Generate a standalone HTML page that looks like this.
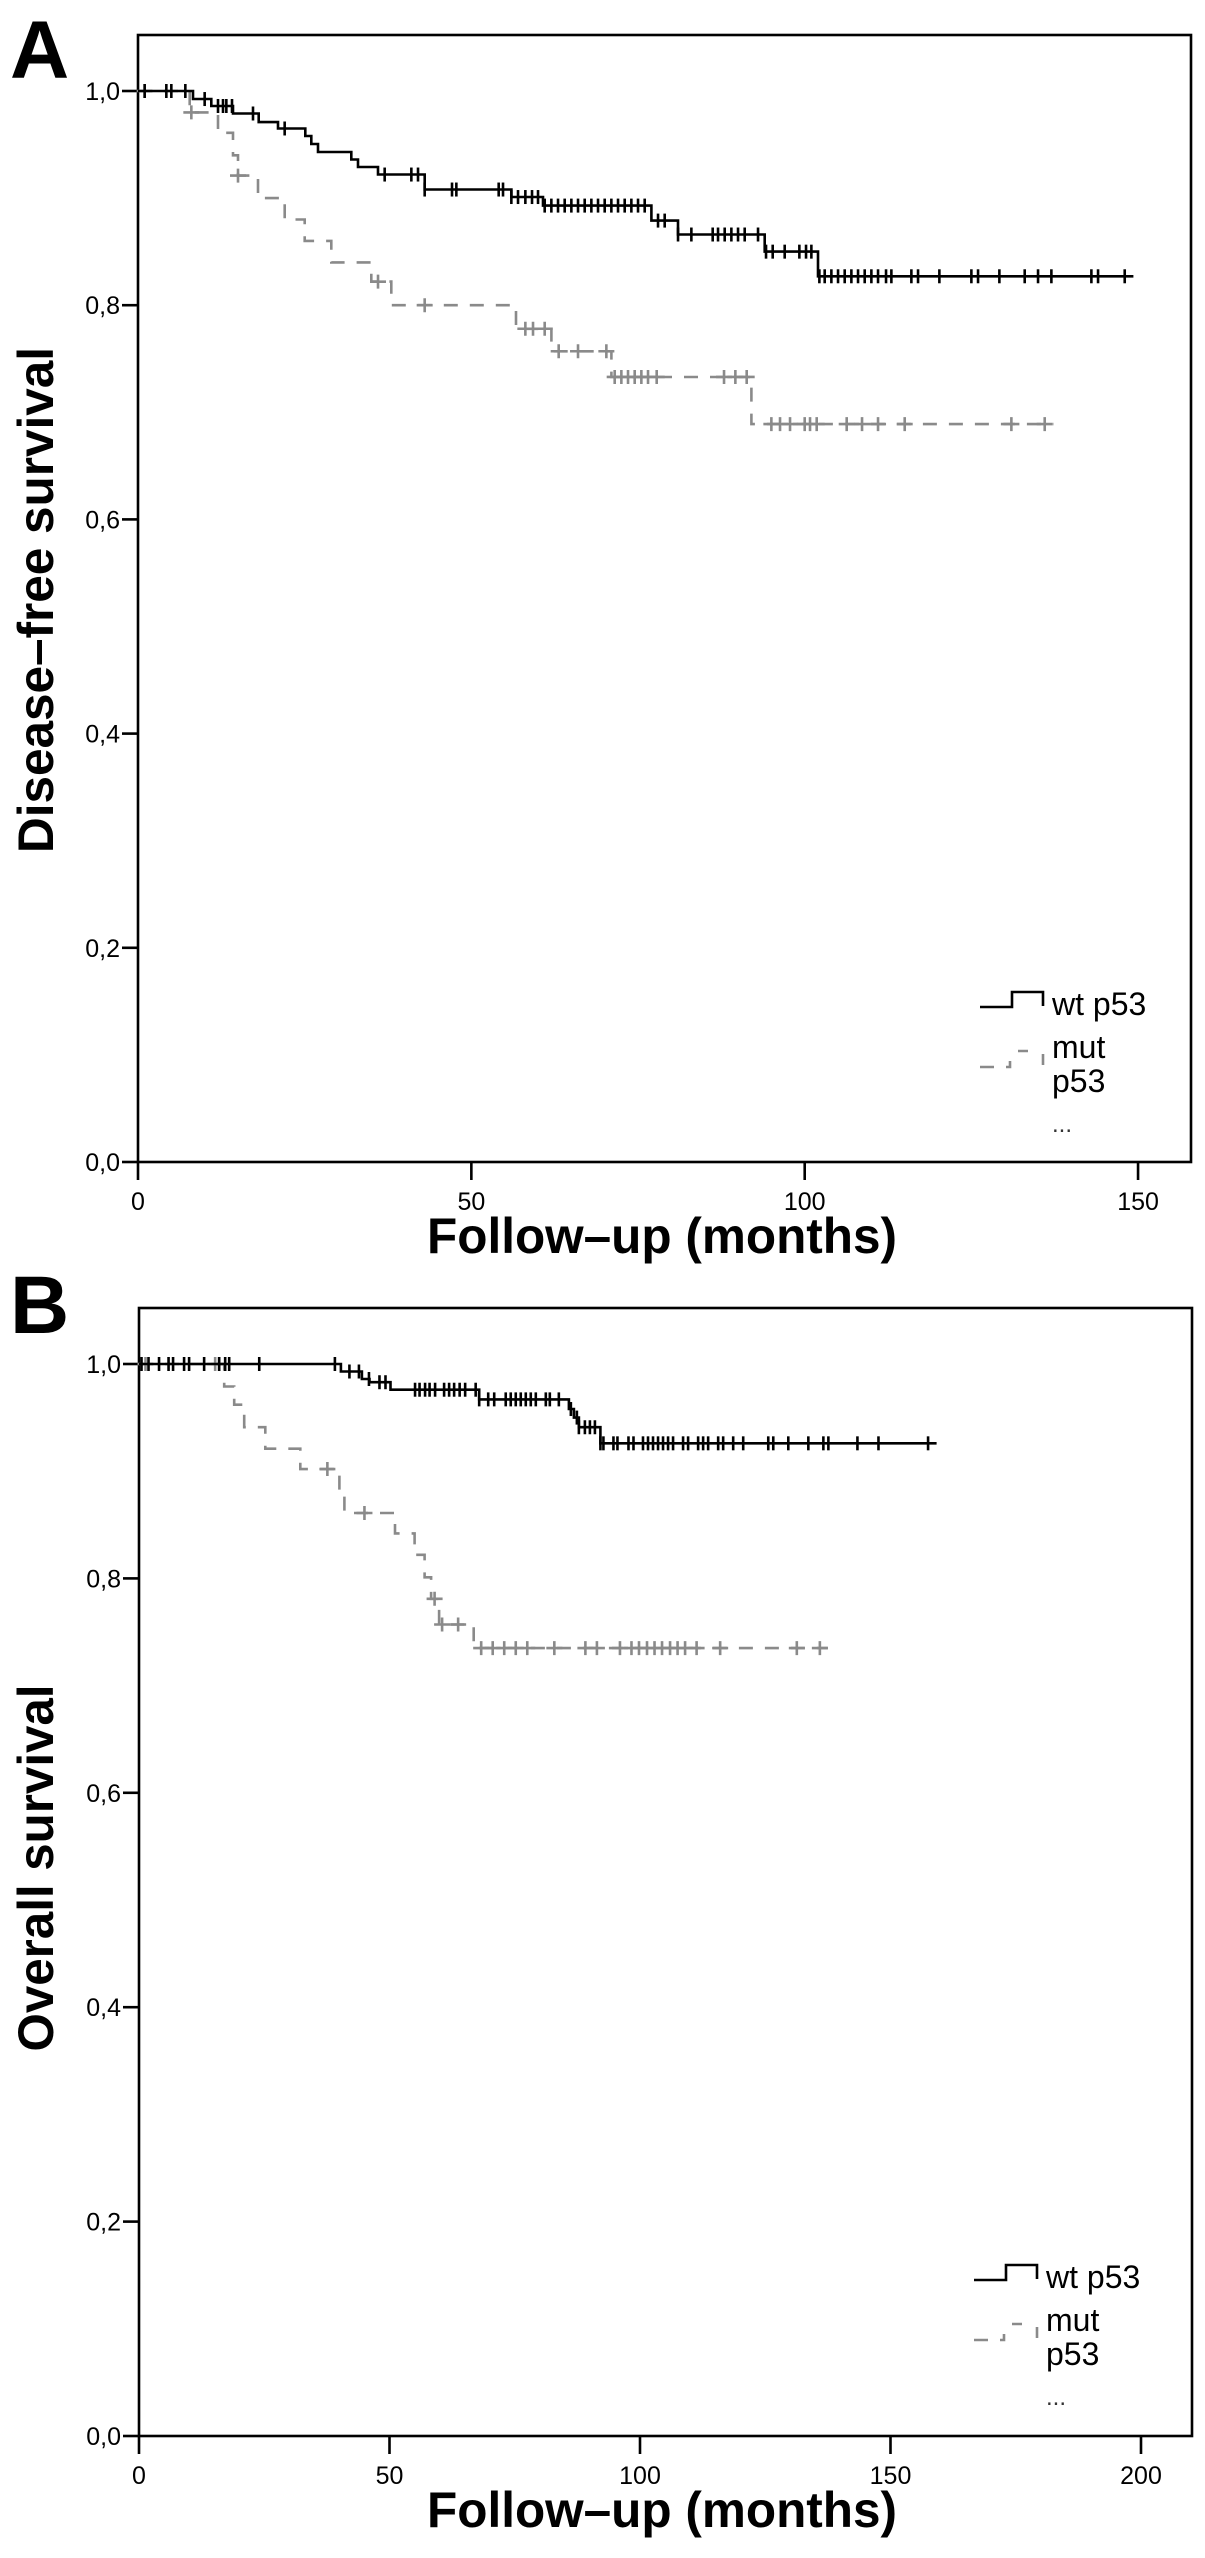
<!DOCTYPE html>
<html><head><meta charset="utf-8"><style>
html,body{margin:0;padding:0;background:#fff;}
svg{display:block;font-family:"Liberation Sans",Arial,sans-serif;}
</style></head><body>
<svg id="fig" width="1205" height="2558" viewBox="0 0 1205 2558" xmlns="http://www.w3.org/2000/svg">
<rect x="0" y="0" width="1205" height="2558" fill="#fff"/>
<g id="panelA"></g>
<g id="panelB"></g>
</svg>
<script>
// Panel A data
const aXTicks = [0, 50, 100, 150];
const aYTicks = [0, 0.2, 0.4, 0.6, 0.8, 1.0];
const aWtSteps = [[8.25,0.9925],[11,0.986],[14.25,0.979],[18.1,0.971],[21,0.965],[25.1,0.958],[26,0.9505],[27,0.943],[32,0.936],[33,0.929],[36,0.922],[43,0.908],[56,0.901],[60.75,0.893],[77,0.879],[81,0.866],[94,0.850],[102,0.827]];
const aWtEnd = 149.3;
const aWtCensor = [1,4.25,5,7.1,10,12,12.75,13.25,14.1,17.25,22,37,41,42,43,47.1,47.75,54.1,54.75,56,57,58.1,59.1,60,61,62,63,64,65,66,67,68,69,70,71,72,73,74,75,76,78,79,81,83,86.2,87,88,89,90,91,93,94.2,95.2,97,99.2,100.2,101,102.2,103,104,105,106,107,108,109,110,111,112.2,113,116,117,120.2,125,126,129.2,133,135,137,143,144,148];
const aMutSteps = [[7.75,0.980],[12,0.961],[14.25,0.940],[15,0.921],[18,0.900],[22,0.880],[25,0.860],[29,0.840],[35,0.822],[38,0.800],[56.7,0.778],[62,0.757],[71,0.733],[92,0.689]];
const aMutEnd = 137.3;
const aMutCensor = [1,8,15,36,43,58.1,59.25,61,63.1,66,70.25,71.5,72.5,73.5,74.5,75.5,76.5,77.8,87.9,89.6,91.3,95,96.3,97.8,100,100.8,101.8,106.3,108.6,111,115,131,136];
// Panel B data
const bXTicks = [0, 50, 100, 150, 200];
const bYTicks = [0, 0.2, 0.4, 0.6, 0.8, 1.0];
const bWtSteps = [[40.3,0.993],[44.5,0.986],[46,0.983],[50.2,0.976],[67.9,0.967],[85.8,0.958],[86.8,0.950],[87.8,0.941],[92.1,0.926]];
const bWtEnd = 159.2;
const bWtCensor = [0.5,1.9,4,5.9,6.8,9,10,13,16,17.2,18,24,39.1,42,43.9,45.9,48,49.2,55.1,56,57.1,58,59.1,60.9,61.9,62.9,64,65.1,67.2,67.9,69.7,70.9,73.2,74.2,75.2,76.2,77.2,78.2,79.2,81.2,82,83.8,86.2,87.4,87.8,89,90,91,92.1,92.7,94.7,95.5,97.7,98.7,100.6,101.6,102.6,103.6,104.6,105.6,106.6,108.6,109.6,111.6,112.6,113.6,115.6,116.6,118.6,120.6,125.6,126.6,129.6,133.6,136.6,137.6,143.4,147.6,157.5];
const bMutSteps = [[17,0.979],[19,0.962],[21,0.941],[25.2,0.921],[32.2,0.902],[40,0.881],[41,0.861],[51.1,0.842],[55,0.822],[57,0.801],[58.3,0.781],[59.9,0.757],[66.8,0.735]];
const bMutEnd = 137.5;
const bMutCensor = [1.3,15.2,16,37.6,45,59,60.5,63.7,68.3,70.6,72.9,75.2,77.5,82.9,89.1,91.4,96,98.3,99.8,101.4,102.9,104.4,106,107.5,109,111.3,116,131.3,135.9];

const NS = "http://www.w3.org/2000/svg";
function mk(parent, tag, attrs, text) {
  const e = document.createElementNS(NS, tag);
  for (const k in attrs) e.setAttribute(k, attrs[k]);
  if (text !== undefined) e.textContent = text;
  parent.appendChild(e);
  return e;
}
function valAt(steps, t) {
  let v = 1;
  for (const s of steps) { if (s[0] <= t) v = s[1]; }
  return v;
}
function kmPath(steps, end, X, Y) {
  let d = "M" + X(0) + "," + Y(1);
  let v = 1;
  for (const s of steps) {
    d += " H" + X(s[0]).toFixed(1) + " V" + Y(s[1]).toFixed(1);
    v = s[1];
  }
  d += " H" + X(end).toFixed(1);
  return d;
}
function drawPanel(g, cfg) {
  const X = t => cfg.x0 + (t - 0) * cfg.xs;
  const Y = v => cfg.yb - v * cfg.ys;
  // frame
  const fr = mk(g, "rect", {x: cfg.x0, y: cfg.top, width: cfg.right - cfg.x0, height: cfg.yb - cfg.top, fill: "none", stroke: "#000", "stroke-width": 2.6});
  
  
  // y ticks
  cfg.yTicks.forEach(v => {
    const tk = mk(g, "line", {x1: cfg.x0 - 16, x2: cfg.x0, y1: Y(v), y2: Y(v), stroke: "#000", "stroke-width": 2.6});
    
    
    const lb = mk(g, "text", {x: cfg.x0 - 18, y: Y(v) + 9, "font-size": 25, "text-anchor": "end", fill: "#000"}, v.toFixed(1).replace(".", ","));
    
    
  });
  cfg.xTicks.forEach(t => {
    const tk = mk(g, "line", {x1: X(t), x2: X(t), y1: cfg.yb, y2: cfg.yb + 18, stroke: "#000", "stroke-width": 2.6});
    
    
    const lb = mk(g, "text", {x: X(t), y: cfg.yb + 48, "font-size": 25, "text-anchor": "middle", fill: "#000"}, String(t));
    
    
  });
  // mut series (gray dashed)
  const mp = mk(g, "path", {d: kmPath(cfg.mutSteps, cfg.mutEnd, X, Y), fill: "none", stroke: "#8a8a8a", "stroke-width": 2.6, "stroke-dasharray": "14 12"});
  
  
  cfg.mutCensor.forEach(t => {
    const cx = X(t), cy = Y(valAt(cfg.mutSteps, t));
    const c = mk(g, "path", {d: "M" + (cx - 8) + "," + cy + " H" + (cx + 8) + " M" + cx + "," + (cy - 7) + " V" + (cy + 7), stroke: "#8a8a8a", "stroke-width": 2.6, fill: "none"});
    
    
  });
  // wt series (black solid)
  const wp = mk(g, "path", {d: kmPath(cfg.wtSteps, cfg.wtEnd, X, Y), fill: "none", stroke: "#000", "stroke-width": 2.6});
  
  
  cfg.wtCensor.forEach(t => {
    const cx = X(t), cy = Y(valAt(cfg.wtSteps, t));
    const c = mk(g, "line", {x1: cx, x2: cx, y1: cy - 7, y2: cy + 7, stroke: "#000", "stroke-width": 2.6});
    
    
  });
  // axis titles
  const xt = mk(g, "text", {x: 662, y: cfg.yb + 91, "font-size": 50, "font-weight": "bold", "text-anchor": "middle", textLength: 470, lengthAdjust: "spacingAndGlyphs", fill: "#000"}, "Follow\u2013up (months)");
  
  
  const yt = mk(g, "text", {x: 0, y: 0, "font-size": 50, "font-weight": "bold", "text-anchor": "middle", textLength: cfg.yTitleLen, lengthAdjust: "spacingAndGlyphs", fill: "#000", transform: "translate(53," + cfg.yTitleC + ") rotate(-90)"}, cfg.yTitle);
  
  
  // panel letter
  const pl = mk(g, "text", {x: 10, y: cfg.letterY, "font-size": 82, "font-weight": "bold", fill: "#000"}, cfg.letter);
  
  
  // legend
  const lx = cfg.legX, ly = cfg.top + 972;
  const lg = mk(g, "g", {});
  
  
  const l1 = mk(lg, "path", {d: "M" + lx + "," + ly + " H" + (lx + 32) + " V" + (ly - 15) + " H" + (lx + 63) + " V" + (ly - 1), fill: "none", stroke: "#000", "stroke-width": 2.6});
  
  
  const t1 = mk(lg, "text", {x: lx + 72, y: ly + 8, "font-size": 32, fill: "#000"}, "wt p53");
  
  
  const l2 = mk(lg, "path", {d: "M" + lx + "," + (ly + 60) + " H" + (lx + 14) + " M" + (lx + 26) + "," + (ly + 60) + " H" + (lx + 30) + " V" + (ly + 54) + " M" + (lx + 38) + "," + (ly + 44) + " H" + (lx + 48) + " M" + (lx + 63) + "," + (ly + 47) + " V" + (ly + 58), fill: "none", stroke: "#8a8a8a", "stroke-width": 2.6});
  
  
  const t2 = mk(lg, "text", {x: lx + 72, y: ly + 51, "font-size": 32, fill: "#000"}, "mut");
  
  
  mk(lg, "text", {x: lx + 72, y: ly + 85, "font-size": 32, fill: "#000"}, "p53");
  mk(lg, "text", {x: lx + 72, y: ly + 125, "font-size": 24, fill: "#333"}, "...");
}
drawPanel(document.getElementById("panelA"), {
  x0: 138, xs: 6.667, yb: 1162, ys: 1071, top: 35, right: 1191,
  xTicks: aXTicks, yTicks: aYTicks,
  wtSteps: aWtSteps, wtEnd: aWtEnd, wtCensor: aWtCensor,
  mutSteps: aMutSteps, mutEnd: aMutEnd, mutCensor: aMutCensor,
  yTitle: "Disease\u2013free survival", yTitleLen: 506, yTitleC: 600,
  letter: "A", letterY: 78, legX: 980
});
drawPanel(document.getElementById("panelB"), {
  x0: 139, xs: 5.01, yb: 2436, ys: 1072, top: 1308, right: 1192,
  xTicks: bXTicks, yTicks: bYTicks,
  wtSteps: bWtSteps, wtEnd: bWtEnd, wtCensor: bWtCensor,
  mutSteps: bMutSteps, mutEnd: bMutEnd, mutCensor: bMutCensor,
  yTitle: "Overall survival", yTitleLen: 367, yTitleC: 1868,
  letter: "B", letterY: 1333, legX: 974
});
</script>
</body></html>
